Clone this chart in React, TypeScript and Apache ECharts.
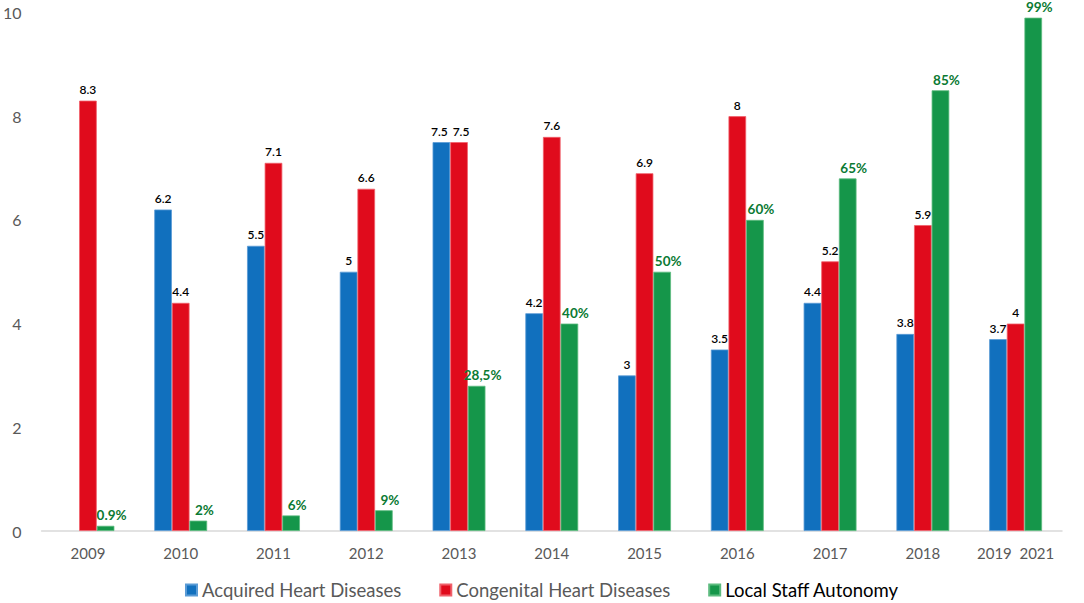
import React, { useEffect, useRef } from "react";
import * as echarts from "echarts";

const categories = ["2009", "2010", "2011", "2012", "2013", "2014", "2015", "2016", "2017", "2018", "2019  2021"];
const acquired = [null, 6.2, 5.5, 5, 7.5, 4.2, 3, 3.5, 4.4, 3.8, 3.7];
const congenital = [8.3, 4.4, 7.1, 6.6, 7.5, 7.6, 6.9, 8, 5.2, 5.9, 4];
const autonomy = [0.1, 0.2, 0.3, 0.4, 2.8, 4, 5, 6, 6.8, 8.5, 9.9];
const autonomyLabels = ["0.9%", "2%", "6%", "9%", "28,5%", "40%", "50%", "60%", "65%", "85%", "99%"];
const yTicks = { min: 0, max: 10, interval: 2 };

const FONT = "Lato, 'Open Sans', sans-serif";

export default function App() {
  const ref = useRef<HTMLDivElement>(null);
  useEffect(() => {
    document.body.style.margin = "0";
    const chart = echarts.init(ref.current!, null, { renderer: "svg" });
    const numLabel = {
      show: true,
      position: "top",
      distance: 5,
      color: "#000",
      fontSize: 12,
      lineHeight: 12,
      fontWeight: 600,
      fontFamily: FONT,
    };
    // nudge the two touching labels in 2013 apart
    const acquiredData = acquired.map((v, i) =>
      categories[i] === "2013" ? { value: v, label: { offset: [-2, 0] } } : v
    );
    const congenitalData = congenital.map((v, i) =>
      categories[i] === "2013" ? { value: v, label: { offset: [2, 0] } } : v
    );
    chart.setOption({
      animation: false,
      textStyle: { fontFamily: FONT },
      grid: { left: 41, right: 22, top: 12.5, bottom: 72, containLabel: false },
      legend: {
        top: 575,
        left: "center",
        itemWidth: 11,
        itemHeight: 11,
        itemGap: 38,
        icon: "rect",
        textStyle: { fontSize: 18.5, lineHeight: 20, color: "#595959", fontFamily: FONT },
        data: [
          { name: "Acquired Heart Diseases" },
          { name: "Congenital Heart Diseases" },
          { name: "Local Staff Autonomy", textStyle: { color: "#000", fontSize: 18.5, lineHeight: 20 } },
        ],
      },
      xAxis: {
        type: "category",
        data: categories,
        axisLine: { lineStyle: { color: "#D9D9D9", width: 1.5 } },
        axisTick: { show: false },
        axisLabel: { color: "#595959", fontSize: 15, margin: 14, interval: 0, fontFamily: FONT },
      },
      yAxis: {
        type: "value",
        min: yTicks.min,
        max: yTicks.max,
        interval: yTicks.interval,
        axisLine: { show: false },
        axisTick: { show: false },
        splitLine: { show: false },
        axisLabel: { color: "#595959", fontSize: 16, margin: 20, fontFamily: FONT },
      },
      series: [
        {
          name: "Acquired Heart Diseases",
          type: "bar",
          data: acquiredData,
          barGap: "0%",
          barCategoryGap: "43%",
          itemStyle: { color: "#1170BE", borderColor: "#5A9BD5", borderWidth: 0.8 },
          label: numLabel,
        },
        {
          name: "Congenital Heart Diseases",
          type: "bar",
          data: congenitalData,
          barGap: "0%",
          barCategoryGap: "43%",
          itemStyle: { color: "#E00B1C", borderColor: "#F0606A", borderWidth: 0.8 },
          label: numLabel,
        },
        {
          name: "Local Staff Autonomy",
          type: "bar",
          data: autonomy,
          barGap: "0%",
          barCategoryGap: "43%",
          itemStyle: { color: "#15964A", borderColor: "#5DBB7F", borderWidth: 0.8 },
          label: {
            show: true,
            position: "top",
            distance: 4,
            offset: [6, 0],
            color: "#0B7A33",
            fontSize: 13.5,
            lineHeight: 13,
            fontWeight: "bold",
            fontFamily: FONT,
            formatter: (p: any) => autonomyLabels[p.dataIndex],
          },
        },
      ],
    });
    return () => chart.dispose();
  }, []);
  return <div ref={ref} style={{ width: 1084, height: 603 }} />;
}
